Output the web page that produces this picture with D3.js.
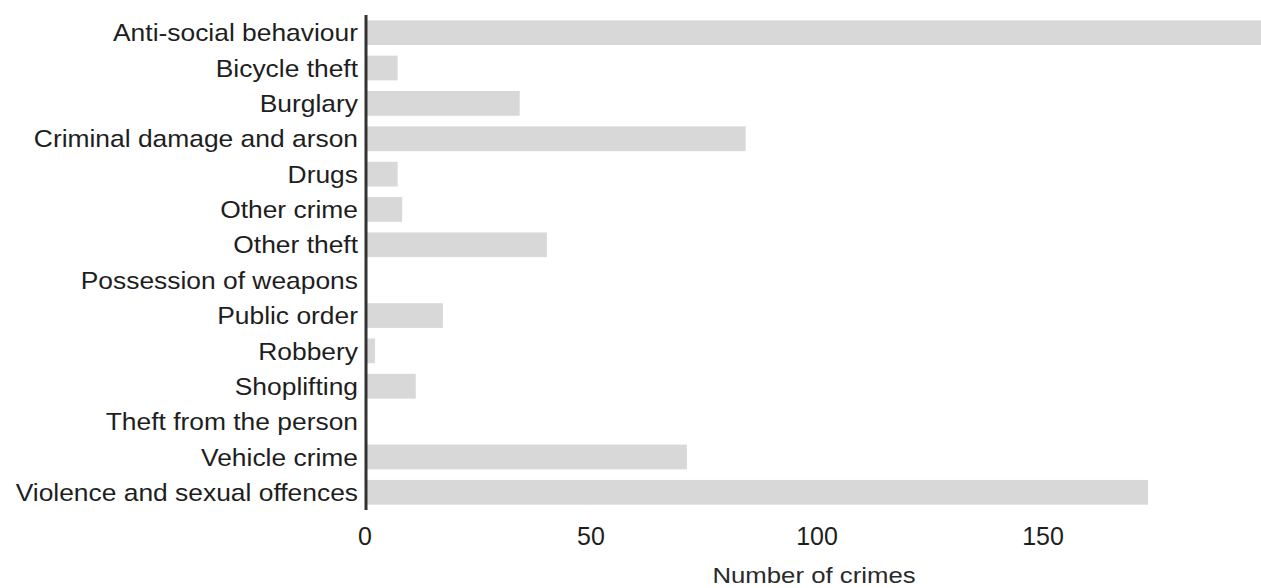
<!DOCTYPE html>
<html>
<head>
<meta charset="utf-8">
<script src="https://cdn.jsdelivr.net/npm/d3@7"></script>
<style>
    body { margin: 0; background: #fff; }
    svg { display: block; font-family: "Liberation Sans", Arial, sans-serif; }
    .catLabel { fill: #1e1e1e; font-size: 24px; }
    .tickLabel { fill: #1e1e1e; font-size: 25px; }
    .axisTitle { fill: #2a2a2a; font-size: 23px; }
</style>
</head>
<body>
<div id="chartContainer"></div>
<script>
/***** Chart data */

const categories = [
    'Anti-social behaviour', 'Bicycle theft', 'Burglary', 'Criminal damage and arson',
    'Drugs', 'Other crime', 'Other theft', 'Possession of weapons', 'Public order',
    'Robbery', 'Shoplifting', 'Theft from the person', 'Vehicle crime',
    'Violence and sexual offences'
];
const crimeCounts = [198, 7, 34, 84, 7, 8, 40, 0, 17, 2, 11, 0, 71, 173];
const tickValues = [0, 50, 100, 150];

// input:
//  names - category names, one per bar
//  values - crime counts, same order as names
//  containerId - html id of the element the chart goes into
function drawCrimeBars (names, values, containerId) {
    const width = 1261;
    const height = 588;
    const axisX = 366;

    const svg = d3.select(`#${containerId}`).append('svg')
        .attr('width', width)
        .attr('height', height);

    const x = d3.scaleLinear()
        .domain([0, d3.max(values)])
        .range([axisX, width]);

    const y = d3.scaleBand()
        .domain(names)
        .range([15, 510])
        .paddingInner(0.3)
        .paddingOuter(0.15);

    svg.selectAll('.bar')
        .data(values)
        .enter()
        .append('rect')
        .attr('class', 'bar')
        .attr('x', x(0))
        .attr('y', (v, i) => y(names[i]))
        .attr('width', v => x(v) - x(0))
        .attr('height', y.bandwidth())
        .attr('fill', '#d8d8d8');

    // the scanned text is a bit wider than the font, so stretch it slightly
    svg.selectAll('.catLabel')
        .data(names)
        .enter()
        .append('text')
        .attr('class', 'catLabel')
        .attr('transform', name => `translate(${axisX - 8},${y(name) + y.bandwidth() / 2}) scale(1.1,1)`)
        .attr('dy', '0.36em')
        .attr('text-anchor', 'end')
        .text(name => name);

    // vertical axis line at zero
    svg.append('line')
        .attr('x1', x(0))
        .attr('x2', x(0))
        .attr('y1', 15)
        .attr('y2', 510)
        .attr('stroke', '#333')
        .attr('stroke-width', 3);

    svg.selectAll('.tickLabel')
        .data(tickValues)
        .enter()
        .append('text')
        .attr('class', 'tickLabel')
        .attr('x', t => x(t) - 1)
        .attr('y', 545)
        .attr('text-anchor', 'middle')
        .text(t => t);

    svg.append('text')
        .attr('class', 'axisTitle')
        .attr('transform', 'translate(814,583) scale(1.12,1)')
        .attr('text-anchor', 'middle')
        .text('Number of crimes');
}

drawCrimeBars(categories, crimeCounts, 'chartContainer');
</script>
</body>
</html>
